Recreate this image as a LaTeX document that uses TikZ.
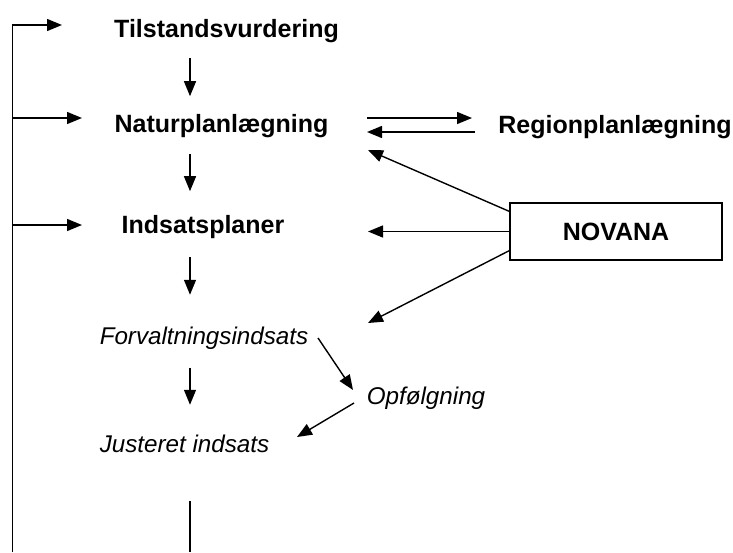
\documentclass[tikz,border=0pt]{standalone}
\usepackage{fontspec}
\setmainfont{Liberation Sans}
\usetikzlibrary{arrows.meta}
\begin{document}
\begin{tikzpicture}[x=1pt,y=-1pt,
  line width=1.4pt,
  flow/.style={-{Triangle[length=15pt,width=12pt]}},
  stage/.style={font=\fontsize{25}{29}\selectfont\bfseries, anchor=base, inner sep=0pt},
  task/.style={font=\fontsize{24.2}{28}\selectfont\itshape, anchor=base, inner sep=0pt},
  monitor/.style={draw, line width=1.1pt, minimum width=212pt, minimum height=57pt,
    inner sep=0pt, font=\fontsize{25}{29}\selectfont\bfseries},
]
\useasboundingbox (0,0) rectangle (733,552);

% main stages
\node[stage] (tilst) at (226.5,37) {Tilstandsvurdering};
\node[stage] (natur) at (221.5,132) {Naturplanlægning};
\node[stage] (indsats) at (203,233) {Indsatsplaner};
\node[stage] (region) at (615,133) {Regionplanlægning};
\node[monitor] (novana) at (616,231.5) {NOVANA};
\node[task] (forv) at (204,344) {Forvaltningsindsats};
\node[task] (opf) at (426,404) {Opfølgning};
\node[task] (just) at (184.5,452) {Justeret indsats};

% spine of the central column and the feedback loop
\coordinate (spine) at (190,0);
\coordinate (loop-bot) at (12.5,552);
\coordinate (col-bot) at (190,552);

% downward flow
\draw[flow, shorten <=15pt, shorten >=17pt] (tilst.south -| spine) -- (natur.north -| spine);
\draw[flow, shorten <=16pt, shorten >=23pt] (natur.south -| spine) -- (indsats.north -| spine);
\draw[flow, shorten <=18pt, shorten >=31pt] (indsats.south -| spine) -- (forv.north -| spine);
\draw[flow, shorten <=18pt, shorten >=29pt] (forv.south -| spine) -- (just.north -| spine);
\draw[shorten <=49pt] (just.base -| spine) -- (col-bot);

% feedback loop on the left
\coordinate (in-t) at ([xshift=-164.5pt,yshift=12pt]tilst.base);
\coordinate (in-n) at ([xshift=-139.5pt,yshift=14pt]natur.base);
\coordinate (in-i) at ([xshift=-121pt,yshift=8pt]indsats.base);
\draw[flow] (loop-bot) |- (in-t);
\draw[flow] (loop-bot |- in-n) -- (in-n);
\draw[flow] (loop-bot |- in-i) -- (in-i);

% exchange with regional planning
\draw[flow] ([xshift=145.5pt,yshift=14pt]natur.base) -- ([xshift=-143pt,yshift=15pt]region.base);
\draw[flow] ([xshift=-140pt,yshift=1pt]region.base) -- ([xshift=145.5pt]natur.base);

% monitoring input
\draw[flow] ([yshift=-9pt]novana.north west) -- ([xshift=146.5pt,yshift=-18pt]natur.base);
\draw[flow] (novana.west) -- ([xshift=165pt]indsats.base |- novana.west);
\draw[flow] ([yshift=10pt]novana.south west) -- ([xshift=164pt,yshift=21pt]forv.base);

% follow-up loop
\draw[flow] ([xshift=114pt,yshift=6pt]forv.base) -- ([xshift=-73pt,yshift=14pt]opf.base);
\draw[flow] ([xshift=-72pt,yshift=1pt]opf.base) -- ([xshift=112.5pt,yshift=15pt]just.base);
\end{tikzpicture}
\end{document}
